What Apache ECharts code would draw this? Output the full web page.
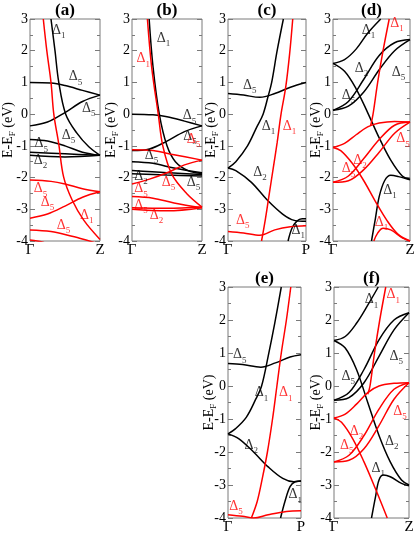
<!DOCTYPE html>
<html><head><meta charset="utf-8">
<script src="https://cdn.jsdelivr.net/npm/echarts@6/dist/echarts.min.js"></script>
<style>html,body{margin:0;padding:0;background:#fff}#c{width:415px;height:535px}</style>
</head><body><div id="c"></div>
<script>
// ---------- DATA ----------
const panelTitles = ['(a)', '(b)', '(c)', '(d)', '(e)', '(f)'];
const endLabels = ['Z', 'Z', 'P', 'Z', 'P', 'Z'];
const yMin = -4, yMax = 3, yStep = 1;

// panel (a)
const a_black = [
  [[0.30,3],[0.357,2.0],[0.41,1.02],[0.51,0],[0.67,-0.6],[0.84,-1.03],[1,-1.3]],
  [[0,1.0],[0.3,0.98],[0.5,0.9],[0.75,0.75],[1,0.6]],
  [[0,-0.37],[0.25,-0.25],[0.5,0.05],[0.75,0.4],[1,0.6]],
  [[0,-0.8],[0.25,-0.85],[0.5,-1.0],[0.75,-1.2],[1,-1.3]],
  [[0,-1.2],[0.5,-1.25],[1,-1.3]],
  [[0,-1.3],[0.5,-1.35],[1,-1.3]]
];
const a_red = [
  [[0.19,3],[0.24,2.0],[0.30,1.0],[0.34,0],[0.41,-0.93],[0.48,-1.98],[0.6,-2.7],[0.77,-3.35],[1,-3.95]],
  [[0,-2.08],[0.3,-2.12],[0.5,-2.2],[0.75,-2.35],[1,-2.45]],
  [[0,-3.28],[0.25,-3.15],[0.5,-2.9],[0.75,-2.62],[1,-2.45]],
  [[0,-3.65],[0.3,-3.7],[0.6,-3.85],[0.8,-3.97],[1,-4.1]],
  [[0,-3.97],[0.1,-4.0],[0.2,-4.05]]
];
const a_lblBlack = [[0.41,2.6,'1'],[0.65,1.13,'5'],[0.84,0.13,'5'],[0.55,-0.72,'5'],[0.16,-0.98,'5'],[0.15,-1.5,'2']];
const a_lblRed = [[0.15,-2.4,'5'],[0.25,-2.82,'5'],[0.81,-3.24,'1'],[0.48,-3.54,'5']];

// panel (b)
const b_black = [
  [[0.245,3],[0.3,1.5],[0.39,0],[0.5,-1.0],[0.62,-1.5],[0.8,-1.78],[1,-1.87]],
  [[0,0],[0.3,-0.02],[0.5,-0.08],[0.75,-0.22],[1,-0.37]],
  [[0,-1.15],[0.25,-1.1],[0.5,-0.85],[0.75,-0.55],[1,-0.37]],
  [[0,-1.5],[0.3,-1.55],[0.6,-1.7],[1,-1.85]],
  [[0,-1.78],[0.5,-1.85],[1,-1.9]],
  [[0,-1.88],[0.5,-1.92],[1,-1.95]]
];
const b_red = [
  [[0.22,3],[0.28,1.5],[0.375,0],[0.44,-1.0],[0.57,-1.9],[0.78,-2.5],[1,-2.93]],
  [[0,-1.12],[0.3,-1.15],[0.6,-1.28],[1,-1.45]],
  [[0,-2.2],[0.25,-2.05],[0.5,-1.85],[0.75,-1.6],[1,-1.45]],
  [[0,-2.6],[0.3,-2.65],[0.6,-2.8],[1,-2.95]],
  [[0,-2.95],[0.5,-2.97],[1,-2.93]],
  [[0,-3.0],[0.5,-3.05],[1,-2.95]]
];
const b_lblBlack = [[0.45,2.35,'1'],[0.82,-0.1,'5'],[0.83,-0.74,'5'],[0.28,-1.35,'5'],[0.13,-2.0,'2'],[0.88,-2.19,'5']];
const b_lblRed = [[0.16,1.7,'1'],[0.88,-0.83,'5'],[0.52,-2.19,'5'],[0.13,-2.4,'5'],[0.13,-2.93,'5'],[0.35,-3.24,'2']];

// panel (c)
const c_black = [
  [[0,-1.7],[0.1,-1.5],[0.25,-1.0],[0.37,-0.4],[0.45,0],[0.515,0.57],[0.56,1.0],[0.63,2.0],[0.71,3.0]],
  [[0,-1.7],[0.1,-1.78],[0.3,-2.15],[0.5,-2.7],[0.7,-3.15],[0.85,-3.35],[1,-3.38]],
  [[0.77,-4],[0.82,-3.6],[0.88,-3.38],[0.95,-3.3],[1,-3.3]],
  [[0,0.65],[0.2,0.6],[0.41,0.53],[0.6,0.65],[0.8,0.85],[1,1.0]]
];
const c_red = [
  [[0.43,-4],[0.48,-3.3],[0.53,-2.5],[0.58,-1.7],[0.63,-0.9],[0.68,0],[0.74,0.85],[0.79,1.9],[0.83,3.0]],
  [[0,-3.7],[0.2,-3.75],[0.41,-3.82],[0.6,-3.65],[0.8,-3.55],[1,-3.52]]
];
const c_lblBlack = [[0.28,0.86,'5'],[0.52,-0.42,'1'],[0.41,-1.87,'2'],[0.9,-3.72,'1']];
const c_lblRed = [[0.79,-0.42,'1'],[0.19,-3.4,'5']];

// panel (d)
const d_black = [
  [[0,1.6],[0.15,1.72],[0.3,2.05],[0.45,2.55],[0.62,3.0]],
  [[0,1.6],[0.15,1.35],[0.3,0.8],[0.45,0.05],[0.6,-0.75],[0.75,-1.45],[0.9,-1.95],[1,-2.05]],
  [[0,0.12],[0.2,0.4],[0.4,1.1],[0.6,1.85],[0.8,2.25],[1,2.35]],
  [[0,0.12],[0.2,0.25],[0.4,0.7],[0.6,1.4],[0.8,2.0],[1,2.35]],
  [[0.5,-4],[0.55,-3.3],[0.6,-2.6],[0.67,-2.1],[0.75,-1.93],[0.85,-1.97],[1,-2.07]]
];
const d_red = [
  [[0.49,-0.35],[0.52,0.0],[0.58,1.0],[0.65,2.0],[0.73,3.0]],
  [[0,-1.05],[0.15,-0.92],[0.3,-0.65],[0.45,-0.4],[0.6,-0.28],[0.8,-0.23],[1,-0.25]],
  [[0,-2.15],[0.2,-1.95],[0.4,-1.4],[0.6,-0.8],[0.8,-0.35],[1,-0.25]],
  [[0,-2.15],[0.2,-2.1],[0.4,-1.75],[0.6,-1.2],[0.8,-0.6],[1,-0.25]],
  [[0,-1.05],[0.1,-1.15],[0.25,-1.55],[0.4,-2.1],[0.55,-2.75],[0.7,-3.35],[0.85,-3.8],[1,-4.0]],
  [[0.53,-4.0],[0.58,-3.75],[0.65,-3.6],[0.75,-3.65],[0.9,-3.9],[1,-4.0]]
];
const d_lblBlack = [[0.46,2.6,'1'],[0.37,1.39,'2'],[0.85,1.28,'5'],[0.2,0.55,'5'],[0.74,-2.45,'1']];
const d_lblRed = [[0.83,2.81,'1'],[0.91,-0.82,'5'],[0.35,-1.5,'2'],[0.2,-1.77,'5'],[0.63,-3.45,'1']];

// panel (e)
const e_black = [
  [[0,0.68],[0.2,0.65],[0.45,0.57],[0.65,0.7],[0.85,0.88],[1,0.95]],
  [[0,-1.45],[0.1,-1.3],[0.25,-0.95],[0.38,-0.4],[0.46,0],[0.55,0.9],[0.64,1.9],[0.73,3.0]],
  [[0,-1.45],[0.15,-1.6],[0.35,-2.0],[0.55,-2.45],[0.75,-2.8],[0.9,-2.9],[1,-2.88]],
  [[0.72,-4],[0.78,-3.5],[0.85,-3.05],[0.92,-2.9],[1,-2.88]]
];
const e_red = [
  [[0.32,-4],[0.4,-3.5],[0.47,-2.8],[0.54,-2.0],[0.61,-1.0],[0.67,0.0],[0.73,1.0],[0.8,2.0],[0.86,3.0]],
  [[0,-3.9],[0.2,-3.95],[0.35,-4.0],[0.55,-3.9],[0.8,-3.8],[1,-3.78]]
];
const e_lblBlack = [[0.16,0.9,'5'],[0.46,-0.25,'1'],[0.32,-1.83,'2'],[0.92,-3.34,'1']];
const e_lblRed = [[0.79,-0.25,'1'],[0.11,-3.7,'5']];

// panel (f)
const f_black = [
  [[0,1.38],[0.15,1.5],[0.3,1.9],[0.45,2.45],[0.59,3.0]],
  [[0,1.38],[0.15,1.15],[0.3,0.5],[0.45,-0.5],[0.6,-1.5],[0.75,-2.3],[0.9,-2.85],[1,-3.0]],
  [[0,-0.43],[0.2,-0.2],[0.4,0.5],[0.6,1.4],[0.8,2.0],[1,2.22]],
  [[0,-0.43],[0.2,-0.35],[0.4,0.1],[0.6,0.9],[0.8,1.7],[1,2.22]],
  [[0.5,-4],[0.55,-3.4],[0.6,-2.85],[0.66,-2.7],[0.75,-2.75],[0.9,-2.95],[1,-3.02]]
];
const f_red = [
  [[0.45,-0.25],[0.48,0.0],[0.54,1.0],[0.61,2.0],[0.69,3.0]],
  [[0,-0.97],[0.15,-0.85],[0.3,-0.55],[0.45,-0.2],[0.6,0.0],[0.8,0.08],[1,0.1]],
  [[0,-2.3],[0.2,-2.1],[0.4,-1.5],[0.6,-0.7],[0.8,-0.1],[1,0.1]],
  [[0,-2.3],[0.2,-2.25],[0.4,-1.9],[0.6,-1.2],[0.8,-0.4],[1,0.1]],
  [[0,-0.97],[0.1,-1.1],[0.25,-1.6],[0.4,-2.3],[0.55,-3.1],[0.71,-4.0]]
];
const f_lblBlack = [[0.5,2.57,'1'],[0.83,0.85,'5'],[0.19,0.24,'5'],[0.77,-1.73,'2'],[0.59,-2.54,'1']];
const f_lblRed = [[0.79,2.72,'1'],[0.88,-0.82,'5'],[0.3,-1.42,'2'],[0.17,-1.83,'5']];

// ---------- LAYOUT ----------
const panels = [
  {black:a_black, red:a_red, lb:a_lblBlack, lr:a_lblRed, rect:{left:30, top:19, width:70, height:222}, gap:13},
  {black:b_black, red:b_red, lb:b_lblBlack, lr:b_lblRed, rect:{left:132, top:19, width:70, height:222}, gap:12},
  {black:c_black, red:c_red, lb:c_lblBlack, lr:c_lblRed, rect:{left:228, top:19, width:78, height:222}, gap:8},
  {black:d_black, red:d_red, lb:d_lblBlack, lr:d_lblRed, rect:{left:333, top:19, width:77, height:222}, gap:8},
  {black:e_black, red:e_red, lb:e_lblBlack, lr:e_lblRed, rect:{left:228, top:287, width:73, height:231}, gap:10},
  {black:f_black, red:f_red, lb:f_lblBlack, lr:f_lblRed, rect:{left:334, top:287, width:75, height:231}, gap:9}
];

const FONT = '"Liberation Serif", "DejaVu Serif", serif';
const FRAME = '#7a7a7a';
const chart = echarts.init(document.getElementById('c'), null, {renderer: 'canvas'});
const option = {animation: false, backgroundColor: '#fff', grid: [], xAxis: [], yAxis: [], series: [], graphic: []};

function labelSeries(i, arr, color) {
  return {
    type: 'scatter', xAxisIndex: i, yAxisIndex: 2 * i, silent: true, z: 5,
    symbolSize: 1, itemStyle: {color: 'rgba(0,0,0,0)'},
    data: arr.map(l => ({value: [l[0], l[1]], sub: l[2]})),
    label: {
      show: true, position: 'inside',
      formatter: p => '{d|Δ}{s|' + p.data.sub + '}',
      rich: {
        d: {fontFamily: FONT, fontSize: 14, color: color, verticalAlign: 'top'},
        s: {fontFamily: FONT, fontSize: 9, color: color, padding: [8, 0, 0, 0]}
      }
    }
  };
}

panels.forEach((p, i) => {
  const r = p.rect;
  option.grid.push({left: r.left, top: r.top, width: r.width, height: r.height, show: true,
    borderColor: FRAME, borderWidth: 1, containLabel: false, outerBoundsMode: 'none'});
  option.xAxis.push({type: 'value', gridIndex: i, min: 0, max: 1, interval: 1,
    axisLine: {show: false}, axisTick: {show: false}, splitLine: {show: false},
    axisLabel: {formatter: v => (v === 0 ? 'Γ' : endLabels[i]), color: '#000', fontFamily: FONT, fontSize: 15, margin: 2}});
  const tickCommon = {
    type: 'value', gridIndex: i, min: yMin, max: yMax, interval: yStep,
    axisLine: {show: false}, splitLine: {show: false},
    axisTick: {show: true, inside: true, length: 5, lineStyle: {color: FRAME}},
    minorTick: {show: true, splitNumber: 2, length: 3, lineStyle: {color: FRAME}}
  };
  option.yAxis.push(Object.assign({}, tickCommon, {position: 'left',
    axisLabel: {color: '#000', fontFamily: FONT, fontSize: 14, margin: 2},
    name: 'E-E{s|F} (eV)', nameLocation: 'middle', nameGap: p.gap, nameRotate: 90,
    nameMoveOverlap: false,
    nameTextStyle: {color: '#000', fontFamily: FONT, fontSize: 14,
      rich: {s: {fontFamily: FONT, fontSize: 9, color: '#000', padding: [8, 0, 0, 0]}}}}));
  option.yAxis.push(Object.assign({}, tickCommon, {position: 'right', axisLabel: {show: false}}));

  p.black.forEach(c => option.series.push({type: 'line', xAxisIndex: i, yAxisIndex: 2 * i, data: c,
    smooth: 0.35, showSymbol: false, silent: true, lineStyle: {color: '#000', width: 1.5}, clip: true}));
  p.red.forEach(c => option.series.push({type: 'line', xAxisIndex: i, yAxisIndex: 2 * i, data: c,
    smooth: 0.35, showSymbol: false, silent: true, lineStyle: {color: '#ff0000', width: 1.5}, clip: true}));
  option.series.push(labelSeries(i, p.lb, '#000'));
  option.series.push(labelSeries(i, p.lr, '#ff0000'));

  option.graphic.push({type: 'text', x: r.left + r.width / 2, y: r.top - 17,
    style: {text: panelTitles[i], font: 'bold 17px ' + FONT, fill: '#000', textAlign: 'center'}});
});

chart.setOption(option);
</script>
</body></html>
